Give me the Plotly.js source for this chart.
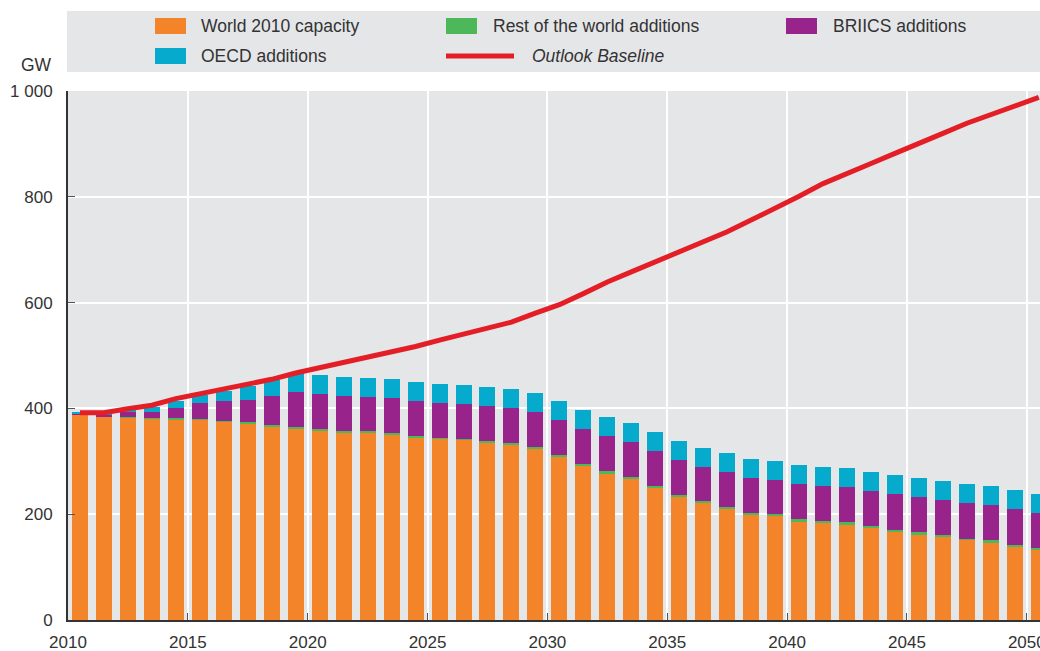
<!DOCTYPE html>
<html>
<head>
<meta charset="utf-8">
<script src="https://cdn.plot.ly/plotly-3.0.1.min.js"></script>
<style>
  html, body { margin: 0; padding: 0; background: #ffffff; }
  #chart { width: 1040px; height: 651px; }
</style>
</head>
<body>
<div id="chart"></div>
<script>
// ---- Data (GW) ----
const years = [2010, 2011, 2012, 2013, 2014, 2015, 2016, 2017, 2018, 2019,
               2020, 2021, 2022, 2023, 2024, 2025, 2026, 2027, 2028, 2029,
               2030, 2031, 2032, 2033, 2034, 2035, 2036, 2037, 2038, 2039,
               2040, 2041, 2042, 2043, 2044, 2045, 2046, 2047, 2048, 2049, 2050];

const world2010Capacity = [387, 383, 382.5, 379.5, 377.5, 378, 374.5, 370, 364, 362,
                           356.5, 353, 353, 349, 343.5, 341.5, 339.5, 334, 330, 322.5,
                           307.5, 290.5, 275.5, 266, 249, 232, 220.5, 209, 198, 196,
                           186, 182.5, 180.5, 174.5, 167, 161.5, 156, 152, 146.5, 138.5, 133];

const restOfWorldAdditions = [0.5, 0.5, 1, 1.5, 3.5, 1.5, 1.5, 3.5, 4, 2,
                              4, 4, 4, 4, 4, 2, 2, 4, 4, 4,
                              4, 4, 5.5, 4, 4, 4, 4, 4, 4, 4,
                              4, 4, 4, 4, 4, 4, 4, 2, 4, 4, 4];

const briicsAdditions = [2, 4, 9.5, 12, 19, 30, 37.5, 43, 55, 66.5,
                         66, 66, 64.5, 66, 66, 66, 66, 66, 66, 66,
                         66, 66, 66, 66, 66, 66, 64.5, 66, 66, 64.5,
                         66.5, 66.5, 66.5, 64.5, 66.5, 66.5, 66.5, 66.5, 66.5, 66.5, 65];

const oecdAdditions = [3.5, 3.5, 5, 9.5, 13.5, 16, 20, 25, 30, 36,
                       36, 36, 36, 36, 36, 36, 36, 36, 36, 36,
                       36, 36, 36, 36, 36, 36, 36, 36, 36, 36,
                       36, 36, 36, 36, 36, 36, 36, 36, 36, 36, 36];

const outlookBaseline = [392, 392, 399.5, 406, 418.5, 428, 436, 445, 455, 467,
                         477, 486, 496, 507, 517, 529, 540, 551, 563, 580,
                         596, 617, 639, 658, 677, 695, 713, 734, 756, 778,
                         801, 825, 845, 863, 882, 900, 920, 939, 956, 972, 988];

const seriesNames = ["World 2010 capacity", "Rest of the world additions", "BRIICS additions",
                     "OECD additions", "Outlook Baseline"];
const colors = { orange: "#F4842A", green: "#4DB85A", purple: "#97238B", blue: "#06AACD", red: "#E31E26" };

// bars sit in the middle of each year
const midYear = years.map(y => y + 0.5);

const FONT = "'Liberation Sans', Arial, sans-serif";
const TXT = "#333333";

function bar(name, y, color) {
  return { type: "bar", name: name, x: midYear, y: y, width: 0.667,
           marker: { color: color, line: { width: 0 } }, showlegend: false, hoverinfo: "x+y+name" };
}

const traces = [
  bar(seriesNames[0], world2010Capacity, colors.orange),
  bar(seriesNames[1], restOfWorldAdditions, colors.green),
  bar(seriesNames[2], briicsAdditions, colors.purple),
  bar(seriesNames[3], oecdAdditions, colors.blue),
  { type: "scatter", mode: "lines", name: seriesNames[4], x: midYear, y: outlookBaseline,
    line: { color: colors.red, width: 5 }, showlegend: false }
];

// ---- layout geometry helpers (pixel -> paper) ----
const W = 1040, H = 651;
const M = { l: 68, r: 0, t: 91, b: 31 };
const PW = W - M.l - M.r, PH = H - M.t - M.b;
const px = p => (p - M.l) / PW;
const py = p => (H - M.b - p) / PH;

const shapes = [
  { type: "rect", xref: "paper", yref: "paper", x0: px(67), x1: px(1040), y0: py(72), y1: py(11),
    fillcolor: "#E5E6E8", line: { width: 0 }, layer: "below" },
  { type: "rect", xref: "paper", yref: "paper", x0: px(155), x1: px(186), y0: py(34), y1: py(18),
    fillcolor: colors.orange, line: { width: 0 } },
  { type: "rect", xref: "paper", yref: "paper", x0: px(155), x1: px(186), y0: py(64), y1: py(48),
    fillcolor: colors.blue, line: { width: 0 } },
  { type: "rect", xref: "paper", yref: "paper", x0: px(446), x1: px(477), y0: py(34), y1: py(18),
    fillcolor: colors.green, line: { width: 0 } },
  { type: "rect", xref: "paper", yref: "paper", x0: px(786), x1: px(817), y0: py(34), y1: py(18),
    fillcolor: colors.purple, line: { width: 0 } },
  { type: "line", xref: "paper", yref: "paper", x0: px(446), x1: px(514), y0: py(56), y1: py(56),
    line: { color: colors.red, width: 5 } }
];

function legText(text, x, y, italic) {
  return { xref: "paper", yref: "paper", x: px(x), y: py(y), xanchor: "left", yanchor: "middle",
           text: italic ? "<i>" + text + "</i>" : text, showarrow: false,
           font: { family: FONT, size: 17.5, color: TXT } };
}

const annotations = [
  legText(seriesNames[0], 199, 26),
  legText(seriesNames[3], 199, 56),
  legText(seriesNames[1], 491, 26),
  legText(seriesNames[4], 530, 56, true),
  legText(seriesNames[2], 831, 26),
  { xref: "paper", yref: "paper", x: px(54), y: py(65), xanchor: "right", yanchor: "middle",
    text: "GW", showarrow: false, font: { family: FONT, size: 17.5, color: TXT } }
];

const layout = {
  width: W, height: H,
  margin: M,
  paper_bgcolor: "#FFFFFF",
  plot_bgcolor: "#E5E6E8",
  barmode: "stack",
  bargap: 0,
  separators: ". ",
  font: { family: FONT, size: 17, color: TXT },
  showlegend: false,
  xaxis: {
    range: [2010, 2050.55],
    tickmode: "linear", tick0: 2010, dtick: 5,
    showgrid: true, gridcolor: "#FFFFFF", gridwidth: 2,
    ticks: "inside", ticklen: 7, tickwidth: 1, tickcolor: "#555555",
    showline: true, linecolor: "#333333", linewidth: 2,
    zeroline: false,
    ticklabeloverflow: "allow",
    tickfont: { family: FONT, size: 17, color: TXT },
    ticklabelstandoff: 6
  },
  yaxis: {
    range: [0, 1000],
    tickmode: "linear", tick0: 0, dtick: 200,
    separatethousands: true,
    showgrid: true, gridcolor: "#FFFFFF", gridwidth: 2,
    ticks: "inside", ticklen: 7, tickwidth: 1, tickcolor: "#555555",
    showline: true, linecolor: "#333333", linewidth: 2,
    zeroline: false,
    tickfont: { family: FONT, size: 17, color: TXT },
    ticklabelstandoff: 10
  },
  shapes: shapes,
  annotations: annotations
};

Plotly.newPlot("chart", traces, layout, { displayModeBar: false, staticPlot: true });
</script>
</body>
</html>
